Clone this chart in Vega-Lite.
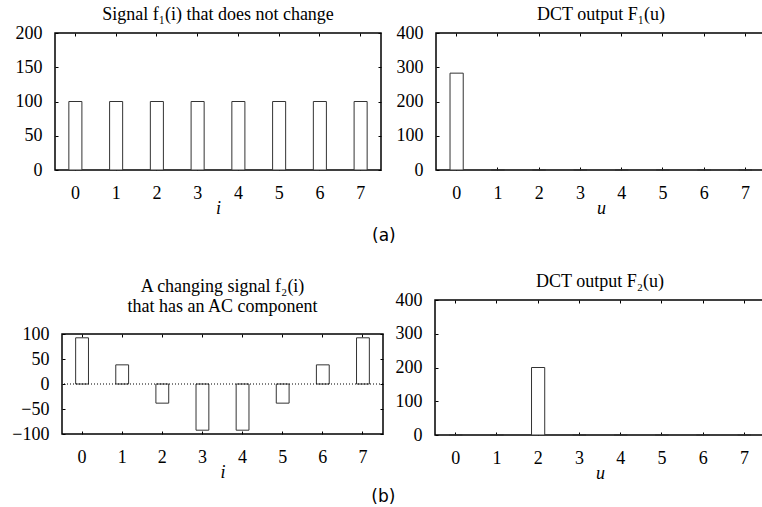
{
  "$schema": "https://vega.github.io/schema/vega-lite/v6.json",
  "padding": {"left": 1, "top": 5, "right": 0, "bottom": 0},
  "background": "white",
  "datasets": {
    "f1": [{"i": 0, "v": 100}, {"i": 1, "v": 100}, {"i": 2, "v": 100}, {"i": 3, "v": 100}, {"i": 4, "v": 100}, {"i": 5, "v": 100}, {"i": 6, "v": 100}, {"i": 7, "v": 100}],
    "F1": [{"u": 0, "v": 282.8}, {"u": 1, "v": 0}, {"u": 2, "v": 0}, {"u": 3, "v": 0}, {"u": 4, "v": 0}, {"u": 5, "v": 0}, {"u": 6, "v": 0}, {"u": 7, "v": 0}],
    "f2": [{"i": 0, "v": 92.4}, {"i": 1, "v": 38.3}, {"i": 2, "v": -38.3}, {"i": 3, "v": -92.4}, {"i": 4, "v": -92.4}, {"i": 5, "v": -38.3}, {"i": 6, "v": 38.3}, {"i": 7, "v": 92.4}],
    "F2": [{"u": 0, "v": 0}, {"u": 1, "v": 0}, {"u": 2, "v": 200}, {"u": 3, "v": 0}, {"u": 4, "v": 0}, {"u": 5, "v": 0}, {"u": 6, "v": 0}, {"u": 7, "v": 0}],
    "zero": [{"v": 0}],
    "blank": [{"k": 0}]
  },
  "spacing": 27,
  "align": "none",
  "vconcat": [
    {
      "title": {"text": "(a)", "orient": "bottom", "anchor": "middle", "font": "DejaVu Sans", "fontSize": 17, "fontWeight": "normal", "offset": 10},
      "spacing": 12,
      "align": "none",
      "hconcat": [
        {"width": 1, "height": 1, "data": {"name": "blank"}, "mark": {"type": "point", "opacity": 0, "size": 0, "strokeWidth": 0}, "view": {"stroke": null}},
        {
          "width": 326, "height": 137,
          "title": {"text": "Signal f₁(i) that does not change", "offset": 0},
          "data": {"name": "f1"},
          "layer": [
            {"mark": {"type": "bar", "fill": "white", "stroke": "#333", "strokeWidth": 1},
             "encoding": {
               "x": {"field": "i", "type": "ordinal", "scale": {"paddingInner": 0.68, "paddingOuter": 0.34}, "axis": {"labelAngle": 0, "title": "i"}},
               "y": {"field": "v", "type": "quantitative", "scale": {"domain": [0, 200]}, "axis": {"values": [0, 50, 100, 150, 200], "title": null}}}},
            {"mark": {"type": "bar", "opacity": 0},
             "encoding": {
               "x": {"field": "i", "type": "ordinal", "axis": {"orient": "top", "labels": false, "title": null}},
               "y": {"field": "v", "type": "quantitative", "axis": {"orient": "right", "labels": false, "title": null, "values": [0, 50, 100, 150, 200]}}}}
          ],
          "resolve": {"axis": {"x": "independent", "y": "independent"}}
        },
        {
          "width": 330, "height": 137,
          "title": {"text": "DCT output F₁(u)", "offset": 0},
          "data": {"name": "F1"},
          "layer": [
            {"mark": {"type": "bar", "fill": "white", "stroke": "#333", "strokeWidth": 1},
             "encoding": {
               "x": {"field": "u", "type": "ordinal", "scale": {"paddingInner": 0.68, "paddingOuter": 0.34}, "axis": {"labelAngle": 0, "title": "u"}},
               "y": {"field": "v", "type": "quantitative", "scale": {"domain": [0, 400]}, "axis": {"values": [0, 100, 200, 300, 400], "title": null}}}},
            {"mark": {"type": "bar", "opacity": 0},
             "encoding": {
               "x": {"field": "u", "type": "ordinal", "axis": {"orient": "top", "labels": false, "title": null}}}}
          ],
          "resolve": {"axis": {"x": "independent", "y": "independent"}}
        }
      ]
    },
    {
      "title": {"text": "(b)", "orient": "bottom", "anchor": "middle", "font": "DejaVu Sans", "fontSize": 17, "fontWeight": "normal", "offset": 6},
      "spacing": 9,
      "align": "none",
      "hconcat": [
        {"width": 1, "height": 1, "data": {"name": "blank"}, "mark": {"type": "point", "opacity": 0, "size": 0, "strokeWidth": 0}, "view": {"stroke": null}},
        {
          "spacing": 0,
          "vconcat": [
            {"width": 1, "height": 6, "data": {"name": "blank"}, "mark": {"type": "point", "opacity": 0, "size": 0, "strokeWidth": 0}, "view": {"stroke": null}},
            {
              "width": 321, "height": 100,
              "title": {"text": ["A changing signal f₂(i)", "that has an AC component"], "offset": 9, "lineHeight": 20},
              "layer": [
                {"data": {"name": "f2"},
                 "mark": {"type": "bar", "fill": "white", "stroke": "#333", "strokeWidth": 1},
                 "encoding": {
                   "x": {"field": "i", "type": "ordinal", "scale": {"paddingInner": 0.68, "paddingOuter": 0.34}, "axis": {"labelAngle": 0, "title": "i"}},
                   "y": {"field": "v", "type": "quantitative", "scale": {"domain": [-100, 100]}, "axis": {"values": [-100, -50, 0, 50, 100], "title": null}}}},
                {"data": {"name": "f2"},
                 "mark": {"type": "bar", "opacity": 0},
                 "encoding": {
                   "x": {"field": "i", "type": "ordinal", "axis": {"orient": "top", "labels": false, "title": null}},
                   "y": {"field": "v", "type": "quantitative", "axis": {"orient": "right", "labels": false, "title": null, "values": [-100, -50, 0, 50, 100]}}}},
                {"data": {"name": "zero"},
                 "mark": {"type": "rule", "color": "black", "strokeWidth": 1, "strokeDash": [1, 2]},
                 "encoding": {"y": {"field": "v", "type": "quantitative", "axis": null}}}
              ],
              "resolve": {"axis": {"x": "independent", "y": "independent"}}
            }
          ]
        },
        {
          "spacing": 0,
          "vconcat": [
            {"width": 1, "height": 1, "data": {"name": "blank"}, "mark": {"type": "point", "opacity": 0, "size": 0, "strokeWidth": 0}, "view": {"stroke": null}},
            {
              "width": 330, "height": 135,
              "title": {"text": "DCT output F₂(u)", "offset": 0},
              "data": {"name": "F2"},
              "layer": [
                {"mark": {"type": "bar", "fill": "white", "stroke": "#333", "strokeWidth": 1},
                 "encoding": {
                   "x": {"field": "u", "type": "ordinal", "scale": {"paddingInner": 0.68, "paddingOuter": 0.34}, "axis": {"labelAngle": 0, "title": "u"}},
                   "y": {"field": "v", "type": "quantitative", "scale": {"domain": [0, 400]}, "axis": {"values": [0, 100, 200, 300, 400], "title": null}}}},
                {"mark": {"type": "bar", "opacity": 0},
                 "encoding": {
                   "x": {"field": "u", "type": "ordinal", "axis": {"orient": "top", "labels": false, "title": null}}}}
              ],
              "resolve": {"axis": {"x": "independent", "y": "independent"}}
            }
          ]
        }
      ]
    }
  ],
  "config": {
    "font": "Liberation Serif",
    "view": {"stroke": "black", "strokeWidth": 1.5},
    "axis": {"domain": false, "grid": false, "labelFont": "Liberation Serif", "labelFontSize": 18, "labelColor": "black", "tickColor": "black", "tickSize": -3, "labelPadding": 17, "titleFont": "Liberation Serif", "titleFontSize": 18, "titleFontWeight": "normal", "titleFontStyle": "italic", "titleColor": "black", "titlePadding": -3},
    "axisY": {"labelPadding": 16},
    "title": {"font": "Liberation Serif", "fontSize": 18, "fontWeight": "normal", "color": "black"}
  }
}
